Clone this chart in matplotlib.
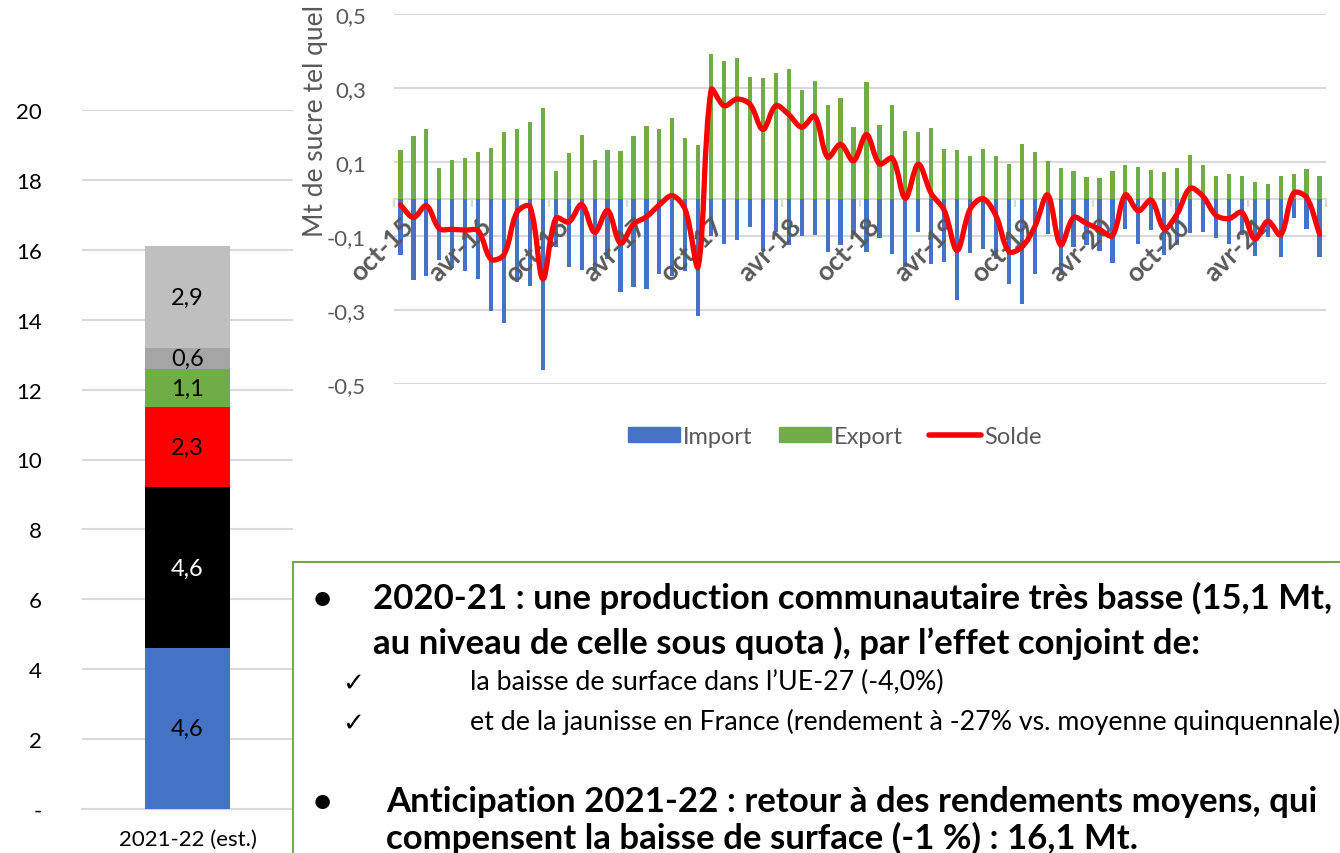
import numpy as np
import matplotlib
matplotlib.use('Agg')
import matplotlib.pyplot as plt
from matplotlib.path import Path
from matplotlib.patches import PathPatch, Rectangle, Patch
from matplotlib.lines import Line2D
from matplotlib.transforms import ScaledTranslation

plt.rcParams['font.family'] = ['Lato', 'DejaVu Sans']

# ---------------- data : left stacked bar ----------------
stack_category = ['2021-22 (est.)']
stack_values = [4.6, 4.6, 2.3, 1.1, 0.6, 2.9]
stack_labels = ['4,6', '4,6', '2,3', '1,1', '0,6', '2,9']
stack_colors = ['#4472C4', '#000000', '#FF0000', '#70AD47', '#A5A5A5', '#BFBFBF']
stack_text_colors = ['black', 'white', 'black', 'black', 'black', 'black']
left_yticks = [0, 2, 4, 6, 8, 10, 12, 14, 16, 18, 20]
left_yticklabels = ['-', '2', '4', '6', '8', '10', '12', '14', '16', '18', '20']

# ---------------- data : right monthly trade chart ----------------
month_tick_labels = ['oct-15', 'avr-16', 'oct-16', 'avr-17', 'oct-17', 'avr-18',
                     'oct-18', 'avr-19', 'oct-19', 'avr-20', 'oct-20', 'avr-21']
export_vals = [0.132, 0.169, 0.188, 0.084, 0.105, 0.111, 0.128, 0.138, 0.182, 0.189,
               0.209, 0.247, 0.075, 0.124, 0.174, 0.105, 0.132, 0.129, 0.170, 0.196,
               0.188, 0.218, 0.164, 0.145, 0.392, 0.373, 0.380, 0.329, 0.326, 0.340,
               0.351, 0.295, 0.319, 0.255, 0.273, 0.195, 0.316, 0.200, 0.255, 0.185,
               0.182, 0.193, 0.136, 0.133, 0.116, 0.134, 0.116, 0.094, 0.148, 0.126,
               0.102, 0.084, 0.076, 0.059, 0.057, 0.077, 0.091, 0.087, 0.078, 0.072,
               0.083, 0.118, 0.093, 0.062, 0.068, 0.062, 0.046, 0.041, 0.061, 0.067,
               0.082, 0.061]
import_vals = [-0.151, -0.218, -0.207, -0.164, -0.187, -0.195, -0.215, -0.303, -0.335, -0.225,
               -0.234, -0.463, -0.129, -0.185, -0.191, -0.195, -0.163, -0.252, -0.238, -0.244,
               -0.202, -0.209, -0.195, -0.315, -0.100, -0.121, -0.112, -0.075, -0.141, -0.088,
               -0.123, -0.101, -0.096, -0.142, -0.125, -0.092, -0.144, -0.105, -0.148, -0.183,
               -0.088, -0.177, -0.171, -0.272, -0.145, -0.135, -0.161, -0.230, -0.283, -0.204,
               -0.094, -0.205, -0.130, -0.125, -0.141, -0.173, -0.082, -0.121, -0.083, -0.151,
               -0.124, -0.091, -0.088, -0.106, -0.121, -0.098, -0.154, -0.103, -0.157, -0.052,
               -0.082, -0.156]
solde_vals = [-0.016, -0.050, -0.018, -0.080, -0.082, -0.084, -0.086, -0.163, -0.150, -0.036,
              -0.020, -0.216, -0.052, -0.062, -0.015, -0.090, -0.031, -0.120, -0.068, -0.048,
              -0.016, 0.009, -0.029, -0.182, 0.295, 0.252, 0.270, 0.256, 0.188, 0.252,
              0.228, 0.194, 0.224, 0.113, 0.148, 0.103, 0.174, 0.095, 0.110, 0.002,
              0.094, 0.015, -0.030, -0.139, -0.028, 0.001, -0.045, -0.142, -0.130, -0.075,
              0.011, -0.124, -0.050, -0.066, -0.082, -0.099, 0.011, -0.032, -0.003, -0.080,
              -0.040, 0.029, 0.007, -0.044, -0.053, -0.036, -0.108, -0.060, -0.097, 0.016,
              0.004, -0.095]
right_yticks = [-0.5, -0.3, -0.1, 0.1, 0.3, 0.5]
right_yticklabels = ['-0,5', '-0,3', '-0,1', '0,1', '0,3', '0,5']

# ---------------- text box ----------------
bullet1 = ['2020-21 : une production communautaire très basse (15,1 Mt,',
           'au niveau de celle sous quota ), par l’effet conjoint de:']
checks = ['la baisse de surface dans l’UE-27 (-4,0%)',
          'et de la jaunisse en France (rendement à -27% vs. moyenne quinquennale)']
bullet2 = ['Anticipation 2021-22 : retour à des rendements moyens, qui',
           'compensent la baisse de surface (-1 %) : 16,1 Mt.']

W, H = 1340, 854
fig = plt.figure(figsize=(W / 100, H / 100), dpi=100)
GRID = '#D9D9D9'
GRAY = '#595959'


def px_axes(x0, y0, x1, y1):
    return fig.add_axes([x0 / W, 1 - y1 / H, (x1 - x0) / W, (y1 - y0) / H])


# ---------------- left chart ----------------
axL = px_axes(82, 111, 293, 810)
bottom = 0.0
for v, lab, c, tc in zip(stack_values, stack_labels, stack_colors, stack_text_colors):
    axL.bar(stack_category, [v], bottom=[bottom], width=0.40, color=c, zorder=3)
    axL.text(0, bottom + v / 2, lab, ha='center', va='center', fontsize=17, color=tc, zorder=4)
    bottom += v
axL.set_xlim(-0.5, 0.5)
axL.set_ylim(0, 20)
axL.set_yticks(left_yticks, left_yticklabels)
axL.yaxis.grid(True, color=GRID, lw=1.5, zorder=0)
axL.set_axisbelow(True)
for s in axL.spines.values():
    s.set_visible(False)
axL.spines['bottom'].set_visible(True)
axL.spines['bottom'].set_color(GRID)
axL.spines['bottom'].set_linewidth(1.5)
axL.tick_params(axis='y', length=0, pad=29, labelsize=16, labelcolor='black')
axL.tick_params(axis='x', length=0, pad=14, labelsize=16, labelcolor='black')

# ---------------- right chart ----------------
axR = px_axes(394, 15, 1326, 385)
x = np.arange(len(export_vals))
axR.bar(x, import_vals, width=0.33, color='#4472C4', zorder=3, label='Import')
axR.bar(x, export_vals, width=0.33, color='#70AD47', zorder=3, label='Export')
axR.set_xlim(-0.5, len(export_vals) - 0.5)
axR.set_ylim(-0.5, 0.5)

# pixel scale of the axes, used so that curve smoothing behaves like on screen
sx = axR.bbox.width / (axR.get_xlim()[1] - axR.get_xlim()[0])
sy = axR.bbox.height / (axR.get_ylim()[1] - axR.get_ylim()[0])


def smooth_path(xs, ys):
    pts = np.column_stack([xs, ys]).astype(float)
    scale = np.array([sx, sy])
    n = len(pts)
    verts = [pts[0]]
    codes = [Path.MOVETO]

    def dist(a, b):
        return np.hypot(*((a - b) * scale))

    for i in range(n - 1):
        p0 = pts[i - 1] if i > 0 else pts[i]
        p1 = pts[i]
        p2 = pts[i + 1]
        p3 = pts[i + 2] if i + 2 < n else pts[i + 1]
        d01, d12, d23 = dist(p0, p1), dist(p1, p2), dist(p2, p3)
        f1 = d12 / (d01 + d12) if (d01 + d12) > 0 else 0.5
        f2 = d12 / (d12 + d23) if (d12 + d23) > 0 else 0.5
        c1 = p1 + (p2 - p0) * f1 / 3
        c2 = p2 - (p3 - p1) * f2 / 3
        verts += [c1, c2, p2]
        codes += [Path.CURVE4] * 3
    return Path(verts, codes)


axR.add_patch(PathPatch(smooth_path(x, solde_vals), fill=False, edgecolor='#FF0000',
                        lw=3.8, capstyle='round', joinstyle='round', zorder=5))
axR.set_yticks(right_yticks, right_yticklabels)
axR.yaxis.grid(True, color=GRID, lw=1.5, zorder=0)
axR.set_axisbelow(True)
for s in axR.spines.values():
    s.set_visible(False)
axR.spines['bottom'].set_visible(True)
axR.spines['bottom'].set_position(('data', 0))
axR.spines['bottom'].set_color(GRID)
axR.spines['bottom'].set_linewidth(1.5)
axR.spines['bottom'].set_zorder(2)
axR.tick_params(axis='y', length=0, pad=20, labelsize=16, labelcolor=GRAY)
major_pos = np.arange(-0.5, len(export_vals), 6)
axR.set_xticks(major_pos, [''] * len(major_pos))
axR.tick_params(axis='x', which='major', length=6, width=1.5, color=GRID, direction='out')

# rotated category labels (every 6 months), drawn above the bars
label_pos = np.arange(0, len(export_vals), 6)
off = ScaledTranslation(9 / 100, -22.6 / 100, fig.dpi_scale_trans)
for pos, lab in zip(label_pos, month_tick_labels):
    axR.text(pos, 0, lab, transform=axR.transData + off, rotation=45, ha='right',
             va='center', rotation_mode='anchor', fontsize=19, fontweight='bold',
             color=GRAY, zorder=4)

axR.set_ylabel('Mt de sucre tel quel', fontsize=19, color=GRAY)
axR.yaxis.set_label_coords(-0.071, 0.714)

handles = [Patch(color='#4472C4'), Patch(color='#70AD47'),
           Line2D([], [], color='#FF0000', lw=4, solid_capstyle='round')]
leg = axR.legend(handles, ['Import', 'Export', 'Solde'], loc='center',
                 bbox_to_anchor=(0.473, -0.142), ncol=3, frameon=False, fontsize=17,
                 handlelength=2.2, handleheight=0.6, handletextpad=0.15, columnspacing=1.1)
for t in leg.get_texts():
    t.set_color(GRAY)

# ---------------- text box ----------------
fig.patches.append(Rectangle((293 / W, 1 - 870 / H), 1070 / W, (870 - 563) / H,
                             transform=fig.transFigure, facecolor='white',
                             edgecolor='#70AD47', lw=1.5, zorder=1))


def ftext(xp, yp, s, **kw):
    fig.text(xp / W, 1 - yp / H, s, va='baseline', zorder=2, **kw)


ftext(313, 609, '•', fontsize=24, fontweight='bold')
ftext(373, 609, bullet1[0], fontsize=25, fontweight='bold')
ftext(373, 654, bullet1[1], fontsize=25, fontweight='bold')
ftext(342, 691, '✓', fontsize=19, family='DejaVu Sans')
ftext(470, 690, checks[0], fontsize=19.3)
ftext(342, 731, '✓', fontsize=19, family='DejaVu Sans')
ftext(470, 730, checks[1], fontsize=19.3)
ftext(313, 812, '•', fontsize=24, fontweight='bold')
ftext(386, 812, bullet2[0], fontsize=25, fontweight='bold')
ftext(386, 849, bullet2[1], fontsize=25, fontweight='bold')

fig.savefig('out.png', dpi=100)
